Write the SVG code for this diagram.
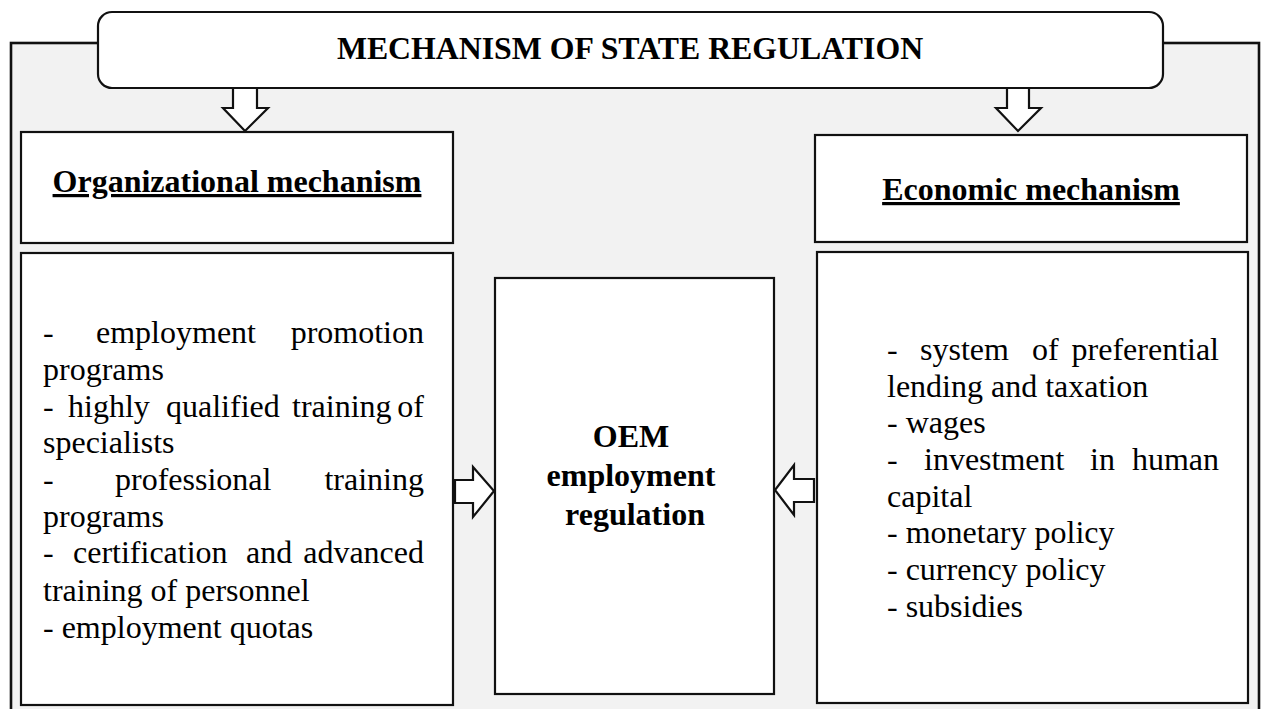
<svg xmlns="http://www.w3.org/2000/svg" width="1267" height="709" viewBox="0 0 1267 709">
  <style>
    .box { fill: #ffffff; stroke: #111111; stroke-width: 2.2; }
    .frame { fill: #f2f2f2; stroke: #111111; stroke-width: 2.6; }
    .arrow { fill: #ffffff; stroke: #111111; stroke-width: 2.2; stroke-linejoin: miter; }
    .t { font-family: 'Liberation Serif', serif; font-size: 32px; fill: #000000; }
    .b { font-weight: bold; }
    .u { text-decoration: underline; }
    .mid { text-anchor: middle; }
  </style>

  <!-- outer panel, open at the bottom -->
  <rect class="frame" x="11" y="43" width="1248" height="700"/>

  <!-- header -->
  <g id="state-regulation">
    <rect class="box" x="98" y="12" width="1065" height="76" rx="14" ry="14"/>
    <text class="t b mid" x="630" y="59" font-family="Liberation Serif" style="font-size:31.8px">MECHANISM OF STATE REGULATION</text>
  </g>

  <!-- connectors -->
  <g id="connectors">
    <!-- header to organizational mechanism -->
    <polygon class="arrow" points="233,88 257,88 257,108 268,108 245,131 223,108 233,108"/>
    <!-- header to economic mechanism -->
    <polygon class="arrow" points="1007,88 1029,88 1029,108 1041,108 1018,131 996,108 1007,108"/>
    <!-- organizational list to OEM -->
    <polygon class="arrow" points="455,480 473,480 473,467 494,491 473,517 473,503 455,503"/>
    <!-- economic list to OEM -->
    <polygon class="arrow" points="814,479 794,479 794,465 775,490 794,515 794,502 814,502"/>
  </g>

  <!-- left column -->
  <g id="organizational-title">
    <rect class="box" x="21" y="132" width="432" height="111"/>
    <text class="t b u mid" x="237" y="192">Organizational mechanism</text>
  </g>

  <g id="organizational-list">
    <rect class="box" x="21" y="253" width="432" height="452"/>
    <text class="t">
      <tspan x="43" y="343">-</tspan><tspan x="96" y="343">employment</tspan><tspan x="432" y="343" text-anchor="end">promotion</tspan>
      <tspan x="43" y="380">programs</tspan>
      <tspan x="43" y="417">-</tspan><tspan x="68" y="417">highly</tspan><tspan x="166" y="417">qualified</tspan><tspan x="292" y="417">training</tspan><tspan x="432" y="417" text-anchor="end">of</tspan>
      <tspan x="43" y="453">specialists</tspan>
      <tspan x="43" y="490">-</tspan><tspan x="115" y="490">professional</tspan><tspan x="432" y="490" text-anchor="end">training</tspan>
      <tspan x="43" y="527">programs</tspan>
      <tspan x="43" y="563">-</tspan><tspan x="73" y="563">certification</tspan><tspan x="246" y="563">and</tspan><tspan x="432" y="563" text-anchor="end">advanced</tspan>
      <tspan x="43" y="601">training of personnel</tspan>
      <tspan x="43" y="638">- employment quotas</tspan>
    </text>
  </g>

  <!-- centre -->
  <g id="oem-regulation">
    <rect class="box" x="495" y="278" width="279" height="416"/>
    <text class="t b mid">
      <tspan x="635" y="447">OEM</tspan>
      <tspan x="635" y="486">employment</tspan>
      <tspan x="635" y="525">regulation</tspan>
    </text>
  </g>

  <!-- right column -->
  <g id="economic-title">
    <rect class="box" x="815" y="135" width="432" height="107"/>
    <text class="t b u mid" x="1031" y="200">Economic mechanism</text>
  </g>

  <g id="economic-list">
    <rect class="box" x="817" y="252" width="431" height="451"/>
    <text class="t">
      <tspan x="887" y="360">-</tspan><tspan x="920" y="360">system</tspan><tspan x="1032" y="360">of</tspan><tspan x="1227" y="360" text-anchor="end">preferential</tspan>
      <tspan x="887" y="397">lending and taxation</tspan>
      <tspan x="887" y="433">- wages</tspan>
      <tspan x="887" y="470">-</tspan><tspan x="924" y="470">investment</tspan><tspan x="1090" y="470">in</tspan><tspan x="1227" y="470" text-anchor="end">human</tspan>
      <tspan x="887" y="507">capital</tspan>
      <tspan x="887" y="543">- monetary policy</tspan>
      <tspan x="887" y="580">- currency policy</tspan>
      <tspan x="887" y="617">- subsidies</tspan>
    </text>
  </g>
</svg>
